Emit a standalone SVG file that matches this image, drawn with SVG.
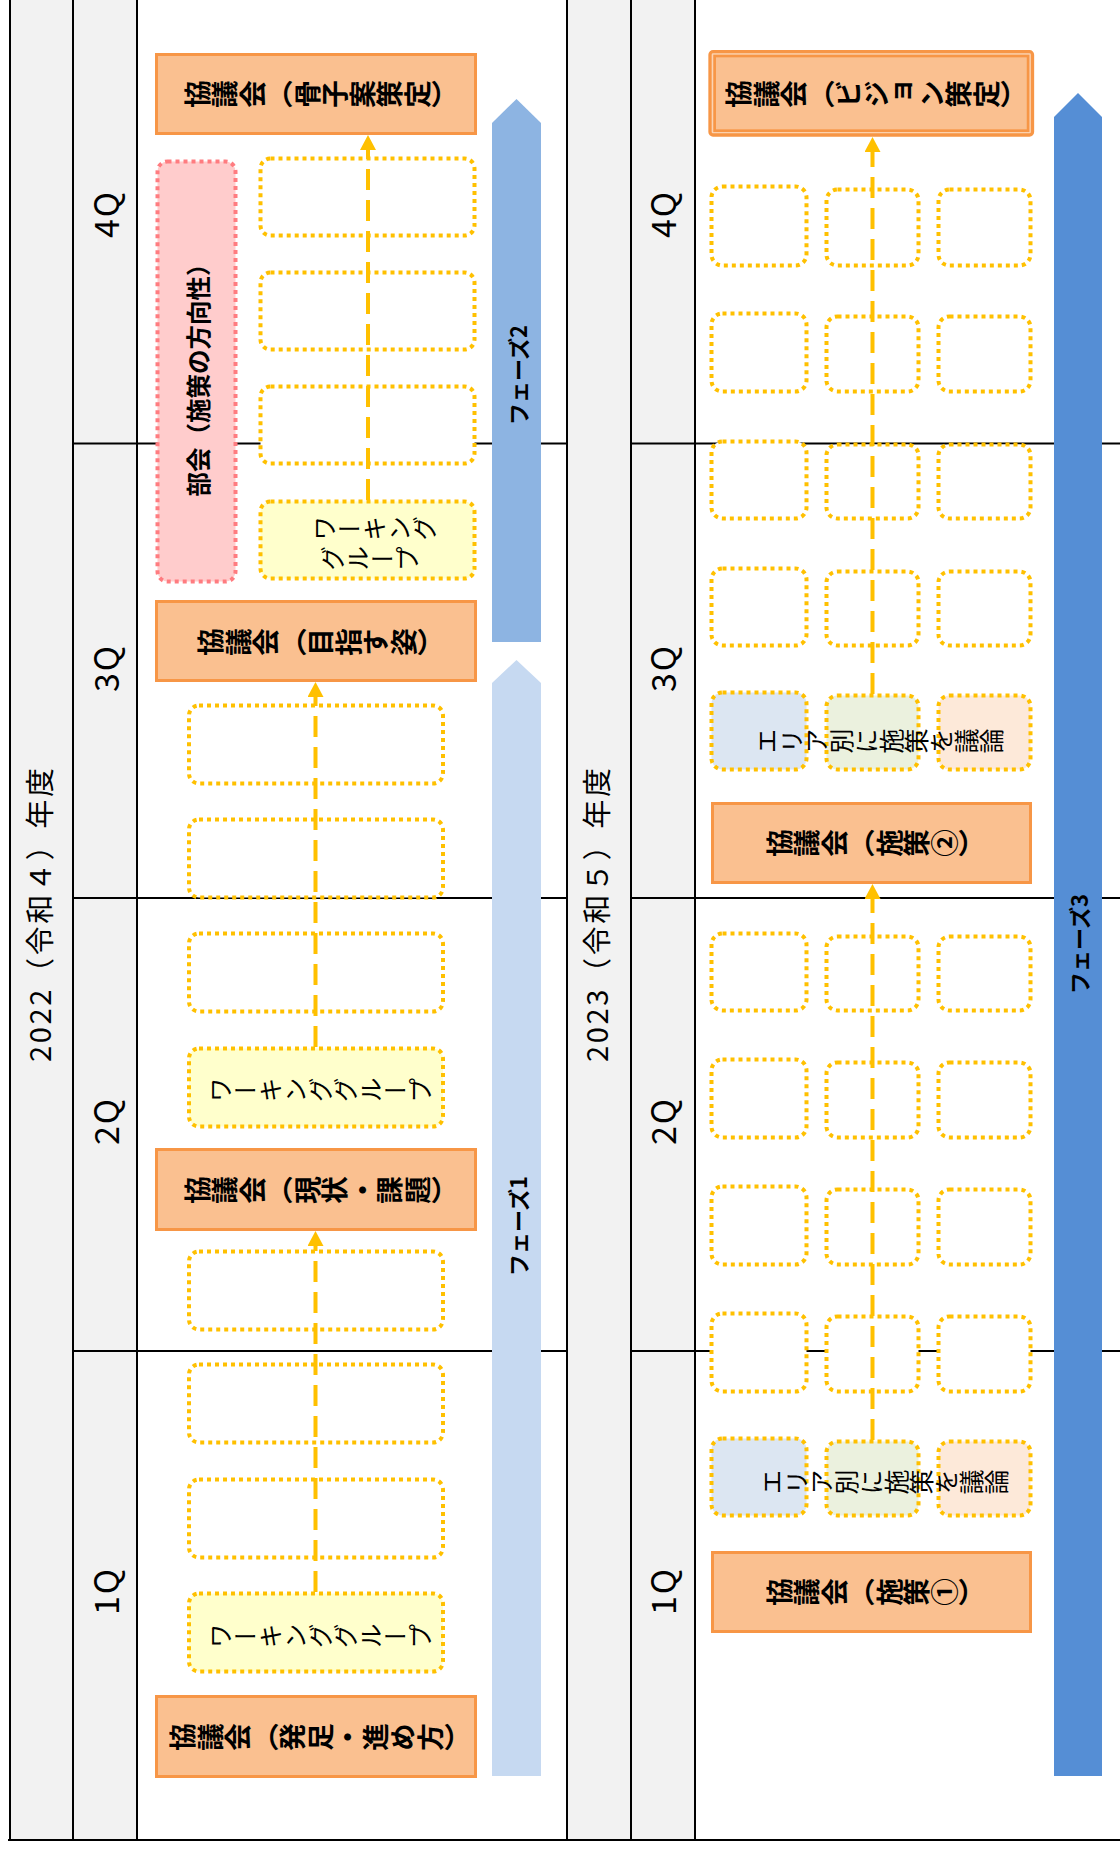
<svg xmlns="http://www.w3.org/2000/svg" width="1120" height="1851" viewBox="0 0 1120 1851">
<style>
text{font-family:"Noto Sans CJK JP","Noto Sans",sans-serif;fill:#000}
.col{fill:#F2F2F2}
.grid{stroke:#000;stroke-width:2;fill:none}
.cr{fill:#FAC090;stroke:#F79646;stroke-width:3}
.dot{fill:#fff;stroke:#FFC000;stroke-width:4;stroke-dasharray:4 4}
.wg{fill:#FFFFCC}
.ca{fill:#DCE6F2}
.cb{fill:#EBF1DE}
.cc{fill:#FDE9D9}
.pink{fill:#FFCCCC;stroke:#FF7C80;stroke-width:4;stroke-dasharray:4 4}
.vt{writing-mode:vertical-rl;text-anchor:middle;dominant-baseline:central;text-spacing-trim:space-all}
.ht{text-anchor:middle;dominant-baseline:central;text-spacing-trim:space-all}
.ct{font-size:27.5px;font-weight:bold}
.lb{font-size:25px}
.yr{font-size:29px}
.q{font-size:34px;letter-spacing:2px}
.ph{font-size:22px;font-weight:bold}
.conn{stroke:#FFC000;stroke-width:4;stroke-dasharray:21 10;fill:none}
</style>
<defs>
<marker id="ah" markerUnits="userSpaceOnUse" viewBox="0 0 16 16" markerWidth="16" markerHeight="16" refX="0" refY="8" orient="auto"><path d="M0,0 L15,8 L0,16 z" fill="#FFC000"/></marker>
</defs>
<rect width="1120" height="1851" fill="#fff"/>
<g id="table">
<rect class="col" x="10" y="0" width="127" height="1840"/>
<rect class="col" x="567" y="0" width="128" height="1840"/>
<path class="grid" d="M10,0V1840M73,0V1840M137,0V1840M567,0V1840M631,0V1840M695,0V1840M8,1840H1120M73,443.5H567M73,898H567M73,1351H567M631,443.5H1120M631,898H1120M631,1351H1120"/>
<text class="ht yr" x="38" y="915" transform="rotate(-90 38 915)" textLength="294" lengthAdjust="spacing">2022（令和４）年度</text>
<text class="ht yr" x="595" y="915" transform="rotate(-90 595 915)" textLength="294" lengthAdjust="spacing">2023（令和５）年度</text>
<text class="ht q" x="104" y="214" transform="rotate(-90 104 214)">4Q</text>
<text class="ht q" x="104" y="668" transform="rotate(-90 104 668)">3Q</text>
<text class="ht q" x="104" y="1121" transform="rotate(-90 104 1121)">2Q</text>
<text class="ht q" x="104" y="1591" transform="rotate(-90 104 1591)">1Q</text>
<text class="ht q" x="661" y="214" transform="rotate(-90 661 214)">4Q</text>
<text class="ht q" x="661" y="668" transform="rotate(-90 661 668)">3Q</text>
<text class="ht q" x="661" y="1121" transform="rotate(-90 661 1121)">2Q</text>
<text class="ht q" x="661" y="1591" transform="rotate(-90 661 1591)">1Q</text>
</g>
<g id="phase1">
<polygon points="492,1776 492,683 516.5,660 541,683 541,1776" fill="#C6D9F1"/>
<text class="ht ph" x="517" y="1226" transform="rotate(-90 517 1226)">フェーズ1</text>
</g>
<g id="phase2">
<polygon points="492,642 492,123 516.5,99 541,123 541,642" fill="#8DB4E2"/>
<text class="ht ph" x="517" y="375" transform="rotate(-90 517 375)">フェーズ2</text>
</g>
<g id="phase3">
<polygon points="1054,1776 1054,117 1078,93 1102,117 1102,1776" fill="#558ED5"/>
<text class="ht ph" x="1078" y="944" transform="rotate(-90 1078 944)">フェーズ3</text>
</g>
<g id="c2022-4">
<rect class="cr" x="156.5" y="54.5" width="319" height="79"/>
</g>
<g id="wg2022-4">
<rect class="dot" x="260.5" y="158.5" width="214" height="77" rx="10"/>
<rect class="dot" x="260.5" y="272.5" width="214" height="77" rx="10"/>
<rect class="dot" x="260.5" y="386.5" width="214" height="77" rx="10"/>
<rect class="dot wg" x="260.5" y="501.5" width="214" height="77" rx="10"/>
<text class="vt lb" x="374" y="528.5" transform="rotate(-90 374 528.5)">ワーキング</text>
<text class="vt lb" x="369.5" y="558.5" transform="rotate(-90 369.5 558.5)">グループ</text>
</g>
<g id="bukai">
<rect class="pink" x="157.5" y="161.5" width="78" height="420" rx="10"/>
<text class="ht ct" style="font-size:24.5px" x="197" y="374" transform="rotate(-90 197 374)">部会（施策の方向性）</text>
</g>
<g id="c2022-3">
<rect class="cr" x="156.5" y="601.5" width="319" height="79"/>
</g>
<g id="wg2022-2">
<rect class="dot" x="189" y="705.5" width="254" height="78" rx="10"/>
<rect class="dot" x="189" y="819.5" width="254" height="78" rx="10"/>
<rect class="dot" x="189" y="933.5" width="254" height="78" rx="10"/>
<rect class="dot wg" x="189" y="1048.5" width="254" height="78" rx="10"/>
</g>
<g id="c2022-2">
<rect class="cr" x="156.5" y="1149.5" width="319" height="80"/>
</g>
<g id="wg2022-1">
<rect class="dot" x="189" y="1251.5" width="254" height="78" rx="10"/>
<rect class="dot" x="189" y="1364.5" width="254" height="78" rx="10"/>
<rect class="dot" x="189" y="1479.5" width="254" height="78" rx="10"/>
<rect class="dot wg" x="189" y="1593.5" width="254" height="78" rx="10"/>
</g>
<g id="c2022-1">
<rect class="cr" x="156.5" y="1696.5" width="319" height="80"/>
</g>
<g id="c2023-4">
<rect x="710" y="51.7" width="322.5" height="83.3" rx="3" fill="#FBD4B4" stroke="#F79646" stroke-width="3.3"/>
<rect x="714.6" y="56" width="313.5" height="74.7" fill="#FAC090" stroke="#F79646" stroke-width="2.7"/>
</g>
<g id="area2023-2">
<rect class="dot" x="711.5" y="186.5" width="95" height="79" rx="11"/>
<rect class="dot" x="826.5" y="189.5" width="92" height="76" rx="11"/>
<rect class="dot" x="938.5" y="189.5" width="92" height="76" rx="11"/>
<rect class="dot" x="711.5" y="313.5" width="95" height="78" rx="11"/>
<rect class="dot" x="826.5" y="316.5" width="92" height="75" rx="11"/>
<rect class="dot" x="938.5" y="316.5" width="92" height="75" rx="11"/>
<rect class="dot" x="711.5" y="441.5" width="95" height="77" rx="11"/>
<rect class="dot" x="826.5" y="444.5" width="92" height="74" rx="11"/>
<rect class="dot" x="938.5" y="444.5" width="92" height="74" rx="11"/>
<rect class="dot" x="711.5" y="568.5" width="95" height="77" rx="11"/>
<rect class="dot" x="826.5" y="571.5" width="92" height="74" rx="11"/>
<rect class="dot" x="938.5" y="571.5" width="92" height="74" rx="11"/>
<rect class="dot ca" x="711.5" y="692.5" width="95" height="77" rx="11"/>
<rect class="dot cb" x="826.5" y="695.5" width="92" height="74" rx="11"/>
<rect class="dot cc" x="938.5" y="695.5" width="92" height="74" rx="11"/>
</g>
<g id="c2023-2">
<rect class="cr" x="712.5" y="803.5" width="318" height="79"/>
</g>
<g id="area2023-1">
<rect class="dot" x="711.5" y="933.5" width="95" height="77" rx="11"/>
<rect class="dot" x="826.5" y="936.5" width="92" height="74" rx="11"/>
<rect class="dot" x="938.5" y="936.5" width="92" height="74" rx="11"/>
<rect class="dot" x="711.5" y="1059.5" width="95" height="78" rx="11"/>
<rect class="dot" x="826.5" y="1062.5" width="92" height="75" rx="11"/>
<rect class="dot" x="938.5" y="1062.5" width="92" height="75" rx="11"/>
<rect class="dot" x="711.5" y="1186.5" width="95" height="78" rx="11"/>
<rect class="dot" x="826.5" y="1189.5" width="92" height="75" rx="11"/>
<rect class="dot" x="938.5" y="1189.5" width="92" height="75" rx="11"/>
<rect class="dot" x="711.5" y="1313.5" width="95" height="78" rx="11"/>
<rect class="dot" x="826.5" y="1316.5" width="92" height="75" rx="11"/>
<rect class="dot" x="938.5" y="1316.5" width="92" height="75" rx="11"/>
<rect class="dot ca" x="711.5" y="1438.5" width="95" height="77" rx="11"/>
<rect class="dot cb" x="826.5" y="1441.5" width="92" height="74" rx="11"/>
<rect class="dot cc" x="938.5" y="1441.5" width="92" height="74" rx="11"/>
</g>
<g id="c2023-1">
<rect class="cr" x="712.5" y="1552.5" width="318" height="79"/>
</g>
<g id="connectors">
<line class="conn" x1="315.5" y1="1592" x2="315.5" y2="1246" marker-end="url(#ah)"/>
<line class="conn" x1="315.5" y1="1047" x2="315.5" y2="697" marker-end="url(#ah)"/>
<line class="conn" x1="368" y1="500" x2="368" y2="150" marker-end="url(#ah)"/>
<line class="conn" x1="872.5" y1="1440" x2="872.5" y2="899" marker-end="url(#ah)"/>
<line class="conn" x1="872.5" y1="694" x2="872.5" y2="152" marker-end="url(#ah)"/>
</g>
<g id="labels">
<text class="vt ct" x="321" y="94" transform="rotate(-90 321 94)">協議会（骨子案策定）</text>
<text class="vt ct" x="321" y="642" transform="rotate(-90 321 642)">協議会（目指す姿）</text>
<text class="vt ct" x="321" y="1190" transform="rotate(-90 321 1190)">協議会（現状・課題）</text>
<text class="vt ct" x="320.5" y="1737" transform="rotate(-90 320.5 1737)">協議会（発足・進め方）</text>
<text class="vt lb" x="320.5" y="1090" transform="rotate(-90 320.5 1090)">ワーキンググループ</text>
<text class="vt lb" x="320.5" y="1636" transform="rotate(-90 320.5 1636)">ワーキンググループ</text>
<text class="vt ct" x="876.5" y="94" transform="rotate(-90 876.5 94)">協議会（ビジョン策定）</text>
<text class="vt ct" x="875.5" y="843" transform="rotate(-90 875.5 843)">協議会（施策②）</text>
<text class="vt ct" x="875.5" y="1592" transform="rotate(-90 875.5 1592)">協議会（施策①）</text>
<text class="vt lb" x="879" y="741" transform="rotate(-90 879 741)">エリア別に施策を議論</text>
<text class="vt lb" x="884" y="1482" transform="rotate(-90 884 1482)">エリア別に施策を議論</text>
</g>
</svg>
